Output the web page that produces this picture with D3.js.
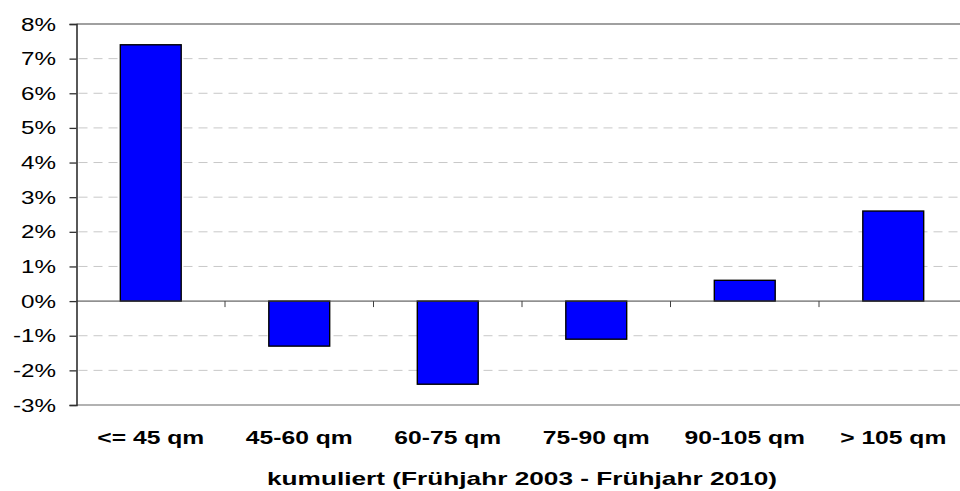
<!DOCTYPE html>
<html>
<head>
<meta charset="utf-8">
<script src="https://cdn.jsdelivr.net/npm/d3@7"></script>
<style>
  body { margin: 0; background: #fff; }
  svg { display: block; font-family: "Liberation Sans", Arial, sans-serif; }
</style>
</head>
<body>
<svg id="chart" width="960" height="491"></svg>
<script>
// data
const categories = ['<= 45 qm', '45-60 qm', '60-75 qm', '75-90 qm', '90-105 qm', '> 105 qm'];
const values = [7.4, -1.3, -2.4, -1.1, 0.6, 2.6];
const yTicks = [-3, -2, -1, 0, 1, 2, 3, 4, 5, 6, 7, 8];
const xTitle = 'kumuliert (Frühjahr 2003 - Frühjahr 2010)';

const width = 960, height = 491;
const plotLeft = 76.5, plotRight = 967.5, plotTop = 24, plotBottom = 405;

const svg = d3.select('#chart');

const x = d3.scaleBand()
  .domain(categories)
  .range([plotLeft, plotRight])
  .paddingInner(0.59)
  .paddingOuter(0.295);

const y = d3.scaleLinear()
  .domain([-3, 8])
  .range([plotBottom, plotTop]);

// the original looks stretched sideways, so text gets a horizontal scale
function stretchedText(g, tx, ty, sx) {
  return g.append('text').attr('transform', `translate(${tx},${ty}) scale(${sx},1)`);
}

// dashed gridlines
svg.append('g')
  .selectAll('line')
  .data(yTicks.filter(d => d !== 0 && d !== -3 && d !== 8))
  .enter()
  .append('line')
  .attr('x1', plotLeft + 2)
  .attr('x2', width)
  .attr('y1', d => y(d))
  .attr('y2', d => y(d))
  .attr('stroke', '#c8c8c8')
  .attr('stroke-width', 1)
  .attr('stroke-dasharray', '9,6');

// plot area border top and bottom
svg.append('line')
  .attr('x1', plotLeft).attr('x2', width)
  .attr('y1', y(8)).attr('y2', y(8))
  .attr('stroke', '#808080').attr('stroke-width', 1.3);
svg.append('line')
  .attr('x1', plotLeft).attr('x2', width)
  .attr('y1', y(-3)).attr('y2', y(-3))
  .attr('stroke', '#999').attr('stroke-width', 1.6);

// bars
svg.append('g')
  .selectAll('rect')
  .data(values)
  .enter()
  .append('rect')
  .attr('x', (d, i) => x(categories[i]))
  .attr('width', x.bandwidth())
  .attr('y', d => y(Math.max(0, d)))
  .attr('height', d => Math.abs(y(d) - y(0)))
  .attr('fill', '#0000ff')
  .attr('stroke', '#000')
  .attr('stroke-width', 1.4);

// zero line with category ticks
svg.append('line')
  .attr('x1', plotLeft).attr('x2', width)
  .attr('y1', y(0)).attr('y2', y(0))
  .attr('stroke', '#404040').attr('stroke-width', 1);
svg.append('g')
  .selectAll('line')
  .data(categories.slice(1))
  .enter()
  .append('line')
  .attr('x1', d => x(d) - x.step() * x.paddingInner() / 2)
  .attr('x2', d => x(d) - x.step() * x.paddingInner() / 2)
  .attr('y1', y(0))
  .attr('y2', y(0) + 6)
  .attr('stroke', '#404040')
  .attr('stroke-width', 1);

// y axis
const yAxis = svg.append('g')
  .attr('transform', `translate(${plotLeft},0)`)
  .call(d3.axisLeft(y).tickValues(yTicks).tickSize(7).tickFormat(''));
yAxis.select('.domain').attr('stroke', '#303030').attr('stroke-width', 1.6);
yAxis.selectAll('.tick line').attr('stroke', '#303030').attr('stroke-width', 1.3);

const yLabels = svg.append('g')
  .attr('font-size', 18.5)
  .attr('fill', '#000')
  .attr('text-anchor', 'end');
yTicks.forEach(t => {
  stretchedText(yLabels, 56, y(t) + 6.5, 1.31).text(t + '%');
});

// category labels
const xLabels = svg.append('g')
  .attr('font-size', 18)
  .attr('font-weight', 'bold')
  .attr('text-anchor', 'middle');
categories.forEach(c => {
  stretchedText(xLabels, x(c) + x.bandwidth() / 2, 444, 1.37).text(c);
});

// axis title
svg.append('text')
  .attr('x', (plotLeft + plotRight) / 2)
  .attr('y', 485)
  .attr('font-size', 18.5)
  .attr('font-weight', 'bold')
  .attr('text-anchor', 'middle')
  .attr('textLength', 510)
  .attr('lengthAdjust', 'spacingAndGlyphs')
  .text(xTitle);
</script>
</body>
</html>
